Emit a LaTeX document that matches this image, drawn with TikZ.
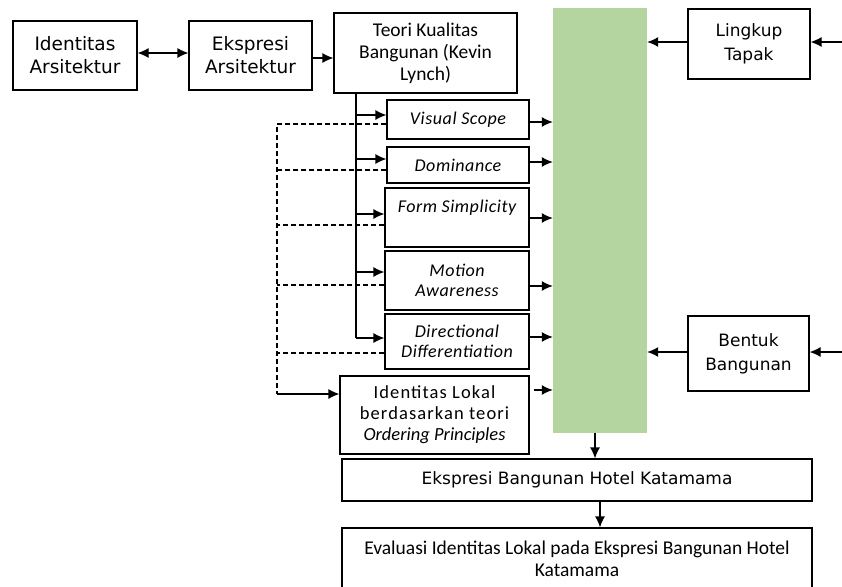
\documentclass[tikz,border=0pt]{standalone}
\usepackage{fontspec}
\setmainfont{Carlito}
\newfontfamily\dv{DejaVu Sans}
\usetikzlibrary{arrows.meta}
\definecolor{gr}{RGB}{181,213,160}
\begin{document}
\begin{tikzpicture}[x=1pt,y=-1pt,
  box/.style={draw,line width=1.2pt,inner sep=3pt,align=center,
     font=\fontsize{19.5}{22}\selectfont},
  dvbox/.style={box,font=\dv\fontsize{17}{24}\selectfont},
  dvbig/.style={box,font=\dv\fontsize{18.5}{23}\selectfont},
  itbox/.style={box,font=\itshape\fontsize{18}{20}\selectfont\addfontfeature{LetterSpace=3}},
  arr/.style={line width=1.2pt,-{Latex[length=11pt,width=10pt]}},
  darr/.style={line width=1.2pt,{Latex[length=11pt,width=10pt]}-{Latex[length=11pt,width=10pt]}},
  dsh/.style={line width=1.2pt,dash pattern=on 5pt off 3pt}]
\useasboundingbox (0,0) rectangle (842,586);
% nodes
\node[dvbig,minimum width=124pt,minimum height=69pt] (ia) at (75,55.5) {Identitas\\Arsitektur};
\node[dvbig,minimum width=123pt,minimum height=69pt] (ea) at (250.5,55.5) {Ekspresi\\Arsitektur};
\node[box,minimum width=183pt,minimum height=80pt] (tk) at (425.5,53) {Teori Kualitas\\Bangunan (Kevin\\Lynch)};
\node[fill=gr,inner sep=0pt,minimum width=94pt,minimum height=425pt] (g) at (600,220.5) {};
\node[dvbox,minimum width=122pt,minimum height=70pt] (lt) at (749,44) {Lingkup\\Tapak};
\node[dvbox,minimum width=121pt,minimum height=75pt] (bb) at (748.5,353.5) {Bentuk\\Bangunan};
\node[itbox,minimum width=142pt,minimum height=39pt] (vs) at (458,119.5) {Visual Scope};
\node[itbox,minimum width=142pt,minimum height=36pt] (dom) at (458,165) {Dominance};
\node[itbox,minimum width=144pt,minimum height=59pt,text height=20pt,text depth=31pt] (fs) at (457,217.5) {Form Simplicity};
\node[itbox,minimum width=144pt,minimum height=59pt] (ma) at (457,280.5) {Motion\\Awareness};
\node[itbox,minimum width=144pt,minimum height=55pt] (dd) at (457,341.5) {Directional\\Differentiation};
\node[box,minimum width=189pt,minimum height=78pt,font=\fontsize{18.5}{21}\selectfont\addfontfeature{LetterSpace=6}] (il) at (434.5,415) {Identitas Lokal\\berdasarkan teori\\\addfontfeature{LetterSpace=0}\textit{Ordering Principles}};
\node[dvbox,minimum width=470pt,minimum height=42pt] (eb) at (577,480) {Ekspresi Bangunan Hotel Katamama};
\node[box,minimum width=470pt,minimum height=62pt] (ev) at (577,559) {Evaluasi Identitas Lokal pada Ekspresi Bangunan Hotel\\Katamama};
% coordinates
\coordinate (spT) at (356,93);
\coordinate (spB) at (356,338);
\coordinate (rin1) at (842,42);
\coordinate (rin2) at (842,352);
% top connectors
\draw[darr] ([yshift=2.5pt]ia.east) -- ([yshift=2.5pt]ea.west);
\coordinate (a1) at ([yshift=-2.5pt]ea.east);
\draw[arr] (a1) -- (tk.west |- a1);
\draw[arr] (lt.west |- rin1) -- (g.east |- rin1);
\draw[arr] (rin1) -- (lt.east |- rin1);
\draw[arr] (bb.west |- rin2) -- (g.east |- rin2);
\draw[arr] (rin2) -- (bb.east |- rin2);
% spine
\draw[line width=1.2pt] (spT) -- (spB);
\coordinate (b1) at ([yshift=4.5pt]vs.west);
\coordinate (b2) at ([yshift=6pt]dom.west);
\coordinate (b3) at ([yshift=3.5pt]fs.west);
\coordinate (b4) at ([yshift=8.5pt]ma.west);
\coordinate (b5) at ([yshift=3.5pt]dd.west);
\draw[arr] (spT |- b1) -- (b1);
\draw[arr] (spT |- b2) -- (b2);
\draw[arr] (spT |- b3) -- (b3);
\draw[arr] (spT |- b4) -- (b4);
\draw[arr] (spT |- b5) -- (b5);
% to green
\coordinate (c1) at ([yshift=-2.5pt]vs.east);
\coordinate (c2) at ([yshift=3pt]dom.east);
\coordinate (c3) at ([yshift=-0.5pt]fs.east);
\coordinate (c4) at ([yshift=-5.5pt]ma.east);
\coordinate (c5) at ([yshift=4.5pt]dd.east);
\coordinate (c6) at ([yshift=25pt]il.east);
\draw[arr] (c1) -- (g.west |- c1);
\draw[arr] (c2) -- (g.west |- c2);
\draw[arr] (c3) -- (g.west |- c3);
\draw[arr] (c4) -- (g.west |- c4);
\draw[arr] (c5) -- (g.west |- c5);
\draw[arr] ([xshift=4pt]c6) -- (g.west |- c6);
% dashed feedback
\coordinate (dl) at (277,0);
\coordinate (d1) at ([yshift=-4.5pt]vs.west);
\coordinate (d2) at ([yshift=-5pt]dom.west);
\coordinate (d3) at ([yshift=-7.5pt]fs.west);
\coordinate (d4) at ([yshift=-4.5pt]ma.west);
\coordinate (d5) at ([yshift=-11.5pt]dd.west);
\coordinate (e6) at ([yshift=21pt]il.west);
\draw[dsh] (d1) -- (dl |- d1) -- (dl |- e6);
\draw[dsh] (d2) -- (dl |- d2);
\draw[dsh] (d3) -- (dl |- d3);
\draw[dsh] (d4) -- (dl |- d4);
\draw[dsh] (d5) -- (dl |- d5);
\draw[arr] (dl |- e6) -- (e6);
% bottom
\coordinate (f1) at ([xshift=-5pt]g.south);
\draw[arr] (f1) -- (f1 |- eb.north);
\coordinate (f2) at ([xshift=23pt]eb.south);
\draw[arr] (f2) -- (f2 |- ev.north);
\end{tikzpicture}
\end{document}
